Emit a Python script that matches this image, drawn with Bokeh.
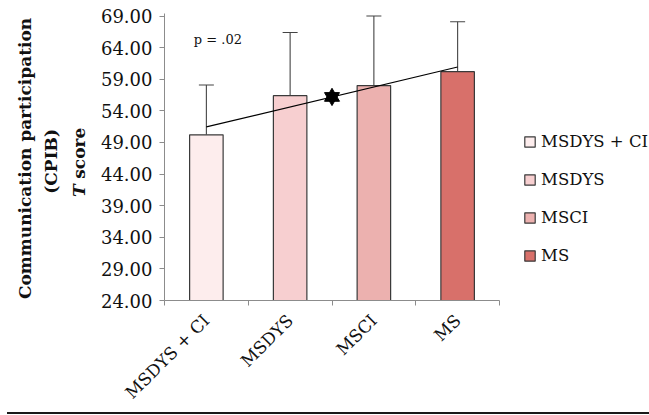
import numpy as np
from bokeh.plotting import figure
from bokeh.models import (ColumnDataSource, Range1d, FixedTicker, NumeralTickFormatter,
                          Whisker, TeeHead, Label, Div, Legend, LegendItem)
from bokeh.layouts import column, row
from bokeh.core.properties import value
from bokeh.embed import file_html
from bokeh.resources import INLINE

# ---- data ----
groups = ["MSDYS + CI", "MSDYS", "MSCI", "MS"]
means = [50.2, 56.4, 58.0, 60.2]
sds = [7.9, 10.0, 11.0, 7.9]
colors = ["#FDEDED", "#F7CFD0", "#ECB1AF", "#D8706A"]
y_ticks = [24, 29, 34, 39, 44, 49, 54, 59, 64, 69]
p_text = "p = .02"
title_lines = ["Communication participation", "(CPIB)"]
title_italic = "T"
title_rest = "score"

SERIF = "DejaVu Serif"
AXIS_GREY = "#8c8c8c"
EDGE = "#3a3a3a"
TXT = "#111111"
H = 412
TOP, BOTTOM = 13, 102          # borders shared by all three figures (frames align in a row)
FRAME_BOTTOM = H - BOTTOM      # screen y of the plot frame bottom
TITLE_W = 88
MAIN_W = 416
LEG_W = 649 - TITLE_W - MAIN_W

x = np.arange(len(groups)) + 0.5
upper = np.array(means) + np.array(sds)
src = ColumnDataSource(dict(x=x, mean=means, upper=upper, group=groups, color=colors))

# ---------------- main chart ----------------
p = figure(width=MAIN_W, height=H,
           x_range=Range1d(0, len(groups)), y_range=Range1d(y_ticks[0], 69.4),
           output_backend="svg", toolbar_location=None,
           min_border_left=164 - TITLE_W, min_border_right=5,
           min_border_top=TOP, min_border_bottom=BOTTOM)
p.grid.visible = False
p.outline_line_color = None

bar_style = dict(width=0.4, fill_color="color", line_color=EDGE, line_width=1.2)
p.vbar(x="x", top="mean", bottom=y_ticks[0], source=src, **bar_style)

whisk = Whisker(base="x", lower="mean", upper="upper", source=src,
                line_color="#444444", line_width=1.1,
                upper_head=TeeHead(size=15, line_color="#444444", line_width=1.1),
                lower_head=None)
p.add_layout(whisk)

# linear trend of the means
coef = np.polyfit(x, means, 1)
xs = np.array([x[0], x[-1]])
p.line(xs, np.polyval(coef, xs), line_color="black", line_width=1.2)
xm = x.mean()
ym = np.polyval(coef, xm)
p.scatter([xm], [ym], marker="triangle", size=15, color="black")
p.scatter([xm], [ym], marker="inverted_triangle", size=15, color="black")

p.add_layout(Label(x=0.35, y=65.3, text=p_text, text_baseline="alphabetic",
                   text_font="DejaVu Serif", text_font_size="13px", text_color=TXT))

# y axis
p.yaxis.ticker = FixedTicker(ticks=y_ticks)
p.yaxis.formatter = NumeralTickFormatter(format="0.00")
p.yaxis.major_tick_out = 5
p.yaxis.major_tick_in = 0
p.yaxis.minor_tick_line_color = None
p.yaxis.axis_line_color = AXIS_GREY
p.yaxis.major_tick_line_color = AXIS_GREY
p.yaxis.major_label_standoff = 7
p.yaxis.major_label_text_font = SERIF
p.yaxis.major_label_text_font_size = "18px"
p.yaxis.major_label_text_color = TXT

# x axis
p.xaxis.ticker = FixedTicker(ticks=list(x), minor_ticks=list(range(len(groups) + 1)))
p.xaxis.major_label_overrides = {float(xi): g for xi, g in zip(x, groups)}
p.xaxis.major_tick_line_color = None
p.xaxis.major_tick_out = 0
p.xaxis.minor_tick_out = 5
p.xaxis.minor_tick_in = 0
p.xaxis.minor_tick_line_color = AXIS_GREY
p.xaxis.axis_line_color = AXIS_GREY
p.xaxis.major_label_orientation = np.pi / 4
p.xaxis.major_label_standoff = 12
p.xaxis.major_label_text_font = SERIF
p.xaxis.major_label_text_font_size = "17px"
p.xaxis.major_label_text_color = TXT

# ---------------- legend panel (own figure; proxy bars that draw nothing) ----------------
lf = figure(width=LEG_W, height=H, x_range=Range1d(0, 1), y_range=Range1d(0, 1),
            output_backend="svg", toolbar_location=None,
            min_border_left=0, min_border_right=0,
            min_border_top=TOP, min_border_bottom=BOTTOM,
            x_axis_location=None, y_axis_location=None)
lf.grid.visible = False
lf.outline_line_color = None
proxy = ColumnDataSource(dict(x=[np.nan] * len(groups), color=colors))
lbars = lf.vbar(x="x", top=np.nan, bottom=np.nan, source=proxy, **bar_style)
items = [LegendItem(label=value(g), renderers=[lbars], index=i) for i, g in enumerate(groups)]
lg = Legend(items=items, location=(19, FRAME_BOTTOM - 275))
lg.glyph_width = 13
lg.glyph_height = 13
lg.label_height = 20
lg.spacing = 18
lg.padding = 0
lg.margin = 0
lg.label_standoff = 5
lg.border_line_color = None
lg.background_fill_alpha = 0
lg.label_text_font = SERIF
lg.label_text_font_size = "16.5px"
lg.label_text_color = TXT
lf.add_layout(lg)

# ---------------- y title (own narrow figure; three lines, italic T) ----------------
# y data range chosen so that data y == H - screen y inside the aligned frame
tf = figure(width=TITLE_W, height=H, x_range=Range1d(0, TITLE_W),
            y_range=Range1d(H - FRAME_BOTTOM, H - TOP),
            output_backend="svg", toolbar_location=None,
            min_border_left=0, min_border_right=0,
            min_border_top=TOP, min_border_bottom=BOTTOM,
            x_axis_location=None, y_axis_location=None)
tf.grid.visible = False
tf.outline_line_color = None
FS = "17px"
for bx, by, txt in zip([24, 50], [163, 166], title_lines):
    tf.add_layout(Label(x=bx, y=H - by, text=txt, angle=np.pi / 2,
                        text_align="center", text_baseline="alphabetic",
                        text_font=SERIF, text_font_style="bold", text_font_size=FS,
                        text_color=TXT))
tf.add_layout(Label(x=78, y=H - 203, text=title_italic, angle=np.pi / 2,
                    text_align="left", text_baseline="alphabetic",
                    text_font=SERIF, text_font_style="bold italic", text_font_size=FS,
                    text_color=TXT))
tf.add_layout(Label(x=78, y=H - 184, text=title_rest, angle=np.pi / 2,
                    text_align="left", text_baseline="alphabetic",
                    text_font=SERIF, text_font_style="bold", text_font_size=FS,
                    text_color=TXT))

rule = Div(width=642, height=2, margin=(0, 0, 0, 7), styles={"background-color": "#1a1a1a"})
layout = column(row(tf, p, lf, spacing=0), rule, spacing=0)

open("out.html", "w").write(file_html(layout, INLINE))
